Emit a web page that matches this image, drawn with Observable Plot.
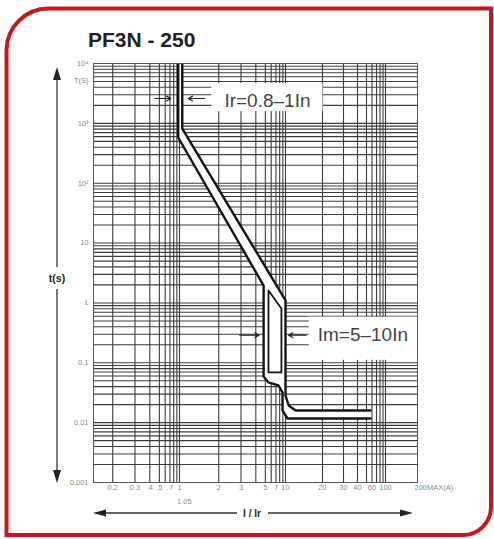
<!DOCTYPE html>
<html>
<head>
<meta charset="utf-8">
<script src="https://cdn.jsdelivr.net/npm/d3@7"></script>
<script src="https://cdn.jsdelivr.net/npm/@observablehq/plot@0.6"></script>
<style>
  html, body { margin: 0; padding: 0; background: #ffffff; }
  #wrap { position: relative; width: 494px; height: 539px; overflow: hidden; }
  #chart { position: absolute; left: 0; top: 0; }
  #deco { position: absolute; left: 0; top: 0; pointer-events: none; }
</style>
</head>
<body>
<div id="wrap">
  <div id="chart"></div>
  <svg id="deco" width="494" height="539" font-family="Liberation Sans, Arial, sans-serif">
    <path d="M6.5,50 A42,42 0 0 1 48.5,8.5 L491,8.5 L491,507 A28,28 0 0 1 463,535 L6.5,535 Z" fill="none" stroke="#c8161e" stroke-width="4"/>
    <text x="88" y="46.5" font-size="21" font-weight="bold" fill="#222">PF3N - 250</text>
    <line x1="57" y1="79" x2="57" y2="267" stroke="#333" stroke-width="1.3"/>
    <line x1="57" y1="289" x2="57" y2="471" stroke="#333" stroke-width="1.3"/>
    <polygon points="57,67 53,80 61,80" fill="#222"/>
    <polygon points="57,483 53,470 61,470" fill="#222"/>
    <text x="57" y="278" font-size="10.5" font-weight="bold" fill="#222" text-anchor="middle" dominant-baseline="central">t(s)</text>
    <line x1="105" y1="513" x2="237" y2="513" stroke="#333" stroke-width="1.3"/>
    <line x1="268" y1="513" x2="401" y2="513" stroke="#333" stroke-width="1.3"/>
    <polygon points="93,513 106,509.5 106,516.5" fill="#222"/>
    <polygon points="413,513 400,509.5 400,516.5" fill="#222"/>
    <text x="252" y="513" font-size="10" font-weight="bold" fill="#222" text-anchor="middle" dominant-baseline="central">I / Ir</text>
  </svg>
</div>
<script>
// ---- data ----
const xTickVals = [0.2, 0.3, 0.4, 0.5, 0.7, 1, 2, 3, 5, 7, 10, 20, 30, 40, 60, 100];
const xTickText = ["0.2", "0.3", ".4", ".5", ".7", "1", "2", "3", "5", "7", "10", "20", "30", "40", "60", "100"];
const yTickVals = [10000, 5200, 1000, 100, 10, 1, 0.1, 0.01, 0.001];
const yTickText = ["10\u2074", "T(S)", "10\u00b3", "10\u00b2", "10", "1", "0.1", "0.01", "0.001"];

// lower (minimum) tripping curve
const lowerX = [0.95, 0.95, 4.8, 4.8, 5.51, 7.65, 8.9, 8.9, 10.4, 57.2];
const lowerY = [10000, 580, 1.95, 0.059, 0.0469, 0.0418, 0.0319, 0.016, 0.0117, 0.0117];
// upper (maximum) tripping curve
const upperX = [1.05, 1.05, 10, 10, 10.6, 12.1, 57.2];
const upperY = [10000, 820, 1.10, 0.0284, 0.0194, 0.016, 0.016];
// inner loop of the instantaneous band
const innerX = [5.51, 8.54, 8.54, 5.51, 5.51];
const innerY = [1.61, 0.807, 0.0689, 0.0689, 1.61];

// annotation labels
const labelText = ["Ir=0.8\u20131In", "Im=5\u201310In"];
const labelX = [5.34, 45.7];
const labelY = [2410, 0.289];
const boxX1 = [1.77, 15.6];
const boxX2 = [20.2, 250];
const boxY1 = [1570, 0.11];
const boxY2 = [4620, 0.578];
// small pointer arrows
const arrowX1 = [0.45, 1.57, 2.94, 14.7];
const arrowX2 = [0.72, 1.17, 4.31, 10.6];
const arrowY = [2600, 2600, 0.289, 0.289];

// ---- derived tables ----
const lower = lowerX.map((x, i) => ({x, y: lowerY[i]}));
const upper = upperX.map((x, i) => ({x, y: upperY[i]}));
const inner = innerX.map((x, i) => ({x, y: innerY[i]}));
const band = lower.concat(upper.slice().reverse());
const labels = labelText.map((t, i) => ({t, x: labelX[i], y: labelY[i]}));
const boxes = boxX1.map((x1, i) => ({x1, x2: boxX2[i], y1: boxY1[i], y2: boxY2[i]}));
const arrows = arrowX1.map((x1, i) => ({x1, x2: arrowX2[i], y: arrowY[i]}));

// printed log paper: each decade ruled 1..9 with the template's own spacing
const decades = [[0.1, 73, 106], [1, 179, 106], [10, 285, 100], [100, 385, 100]];
const frac = [0, 0.37, 0.58, 0.72, 0.81, 0.865, 0.91, 0.945, 0.975];
const xDomain = [], xRange = [];
for (const [b, p, w] of decades) for (let k = 1; k <= 9; k++) { xDomain.push(+(b * k).toPrecision(6)); xRange.push(p + frac[k - 1] * w); }
xDomain.push(1000); xRange.push(485);
const xGrid = xDomain.filter(v => v >= 0.2 && v <= 100);
const yGrid = [];
for (let e = -3; e <= 3; e++) for (let k = 1; k <= 9; k++) yGrid.push(+(k * Math.pow(10, e)).toPrecision(6));
yGrid.push(10000);

const gridColor = "#3c3c3c";
const chart = Plot.plot({
  width: 494,
  height: 539,
  marginTop: 63,
  marginBottom: 57,
  marginLeft: 93,
  marginRight: 77,
  style: {background: "transparent", fontFamily: "Liberation Sans, Arial, sans-serif"},
  x: {type: "log", domain: xDomain, range: xRange, axis: null},
  y: {type: "log", domain: [0.001, 10000], axis: null},
  marks: [
    Plot.ruleX(xGrid, {stroke: gridColor, strokeWidth: 1.1}),
    Plot.ruleY(yGrid, {stroke: gridColor, strokeWidth: 1.1}),
    Plot.rect(boxes, {x1: "x1", x2: "x2", y1: "y1", y2: "y2", fill: "white", clip: true}),
    Plot.line(band, {x: "x", y: "y", fill: "white", stroke: "none", clip: true}),
    Plot.line(lower, {x: "x", y: "y", stroke: "#141414", strokeWidth: 2.4, clip: true}),
    Plot.line(upper, {x: "x", y: "y", stroke: "#141414", strokeWidth: 2.4, clip: true}),
    Plot.line(inner, {x: "x", y: "y", stroke: "#141414", strokeWidth: 1.8, clip: true}),
    Plot.arrow(arrows, {x1: "x1", x2: "x2", y1: "y", y2: "y", stroke: "#222", strokeWidth: 1.2, headLength: 6}),
    Plot.text(labels, {x: "x", y: "y", text: "t", fontSize: 19, fill: "#444"}),
    Plot.frame({stroke: "#555", strokeWidth: 1}),
    Plot.text(xTickVals, {x: d => d, text: (d, i) => xTickText[i], frameAnchor: "bottom", dy: 7, fontSize: 7.5, fill: "#8a8a8a"}),
    Plot.text([200], {x: d => d, text: ["200MAX(A)"], frameAnchor: "bottom", dy: 7, dx: -8, textAnchor: "start", fontSize: 7.5, fill: "#8a8a8a"}),
    Plot.text([1.05], {x: d => d, text: ["1.05"], frameAnchor: "bottom", dy: 21, dx: 2, fontSize: 7.5, fill: "#8a8a8a"}),
    Plot.text(yTickVals, {y: d => d, text: (d, i) => yTickText[i], frameAnchor: "left", textAnchor: "end", dx: -5, fontSize: 7.5, fill: "#8a8a8a"})
  ]
});
document.getElementById("chart").appendChild(chart);
</script>
</body>
</html>
